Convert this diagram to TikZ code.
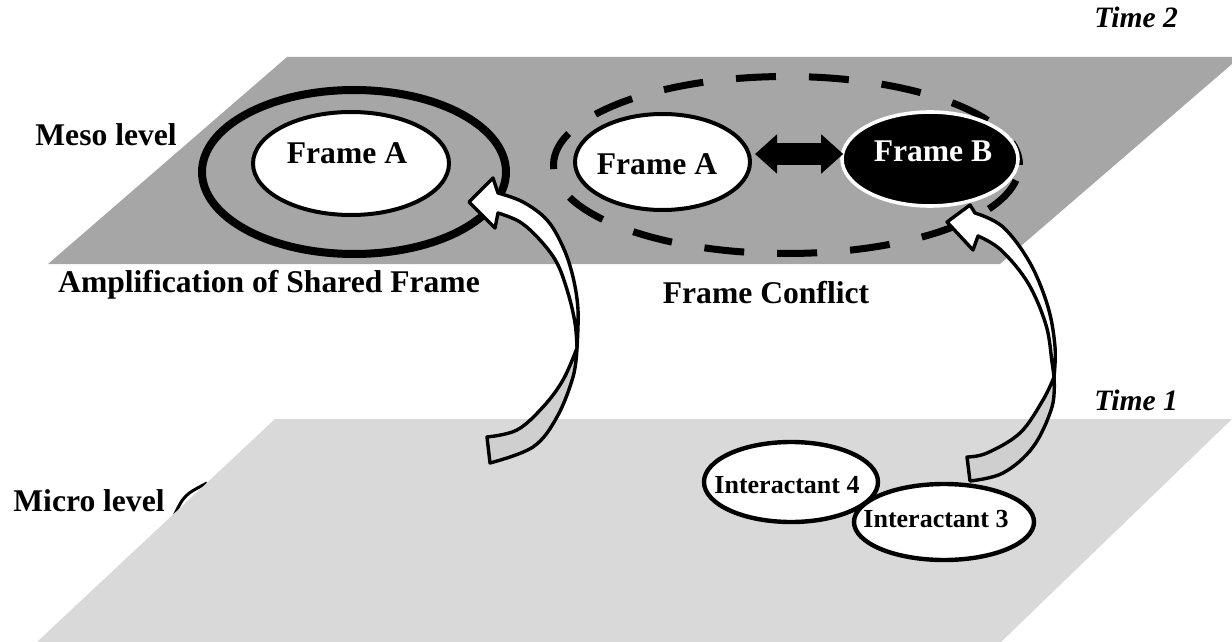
\documentclass[tikz,border=0pt]{standalone}
\usepackage{fontspec}
\setmainfont{Liberation Serif}
\usetikzlibrary{shapes.geometric,arrows.meta}
\definecolor{meso}{HTML}{A6A6A6}
\definecolor{micro}{HTML}{D9D9D9}
\definecolor{backface}{HTML}{CFCFCF}
\begin{document}
\begin{tikzpicture}[x=0.5pt,y=-0.5pt,
  lbl/.style={font=\fontsize{15.8}{18}\selectfont\bfseries, inner sep=0, anchor=base},
  tlbl/.style={font=\fontsize{14.8}{18}\selectfont\bfseries\itshape, inner sep=0, anchor=base west},
  ilbl/.style={font=\fontsize{13}{16}\selectfont\bfseries, inner sep=0, anchor=base},
  ell/.style 2 args={ellipse, inner sep=0, minimum width=#1, minimum height=#2},
  frontface/.style={fill=white, draw=black, line width=1.7pt, line join=round},
  backpart/.style={fill=backface, draw=black, line width=1.7pt, line join=round},
  dbl/.style={line width=11pt, {Triangle[length=11pt,width=19pt]}-{Triangle[length=11pt,width=19pt]}}
]
\useasboundingbox (0,0) rectangle (1232,642);
% hidden ellipse fragment behind micro plane
\draw[line width=1.5pt] (173,518) .. controls (184,495) .. (207,483);
% planes
\fill[micro] (275,419) -- (1232,419) -- (1001,642) -- (37,642) -- cycle;
\fill[meso] (287,57) -- (1232,57) -- (1232,64) -- (1000,264) -- (48,264) -- cycle;
% level labels
\node[lbl, anchor=base west] (meso) at (35,146) {Meso level};
\node[lbl, anchor=base west] (micro) at (13,511) {Micro level};
\node[tlbl] (t2) at (1094,28) {Time 2};
\node[tlbl] (t1) at (1094,410) {Time 1};
\node[lbl] (amp) at (269,292) {Amplification of Shared Frame};
\node[lbl] (conf) at (766,303) {Frame Conflict};
% left: shared frame
\node[ell={152pt}{82pt}, draw, line width=4pt] (ring) at (354,172) {};
\node[ell={98pt}{51.5pt}, draw, fill=white, line width=2pt] (fa1) at (351,163.5) {};
\node[lbl] (fa1t) at (347,163) {Frame A};
% right: frame conflict
\node[ell={233pt}{88.5pt}, draw, line width=3.5pt, dash pattern=on 20pt off 16.5pt, dash phase=8pt] (conflict) at (786.5,165) {};
\node[ell={87.5pt}{48pt}, draw, fill=white, line width=2pt] (fa2) at (662.5,162) {};
\node[lbl] (fa2t) at (657,175) {Frame A};
\node[ell={88pt}{47pt}, draw=white, fill=black, line width=1.8pt] (fb) at (930,159) {};
\node[lbl, text=white] (fbt) at (933,162) {Frame B};
\coordinate (dy) at (0,154);
\draw[dbl] ([xshift=1.5pt]fa2.east |- dy) -- ([xshift=1.5pt]fb.west |- dy);
% interactants
\node[ell={87pt}{40pt}, draw, fill=white, line width=2.2pt] (i4) at (791,482) {};
\node[ilbl] (i4t) at (787,493) {Interactant 4};
\node[ell={90pt}{38pt}, draw, fill=white, line width=2.2pt] (i3) at (944,522) {};
\node[ilbl] (i3t) at (936,527) {Interactant 3};
% left curved arrow
\filldraw[backpart] (577,348) -- plot[smooth,tension=0.6] coordinates {(577,348) (573,377) (557,417) (533,447) (490,463)}
  -- (487,437) -- plot[smooth,tension=0.6] coordinates {(487,437) (517,430) (543,407) (563,380) (577,348)} -- cycle;
\filldraw[frontface] (469,202) -- (493,178) -- (498,193)
  -- plot[smooth,tension=0.6] coordinates {(498,193) (523,202) (547,220) (563,247) (573,277) (578,310) (577,348)}
  -- plot[smooth,tension=0.6] coordinates {(577,348) (575,323) (568,293) (557,263) (540,240) (520,222) (498,213)}
  -- (495,228) -- cycle;
% right curved arrow
\filldraw[backpart] (1054,377) -- plot[smooth,tension=0.6] coordinates {(1054,377) (1052,407) (1033,447) (1003,473) (970,481)}
  -- (967,457) -- plot[smooth,tension=0.6] coordinates {(967,457) (987,453) (1020,433) (1043,400) (1054,377)} -- cycle;
\filldraw[frontface] (947,222) -- (970,205) -- (975,213)
  -- plot[smooth,tension=0.6] coordinates {(975,213) (1003,227) (1030,263) (1048,307) (1055,347) (1054,377)}
  -- plot[smooth,tension=0.6] coordinates {(1054,377) (1052,362) (1046,325) (1028,283) (1001,250) (978,236)}
  -- (973,250) -- cycle;
\end{tikzpicture}
\end{document}
